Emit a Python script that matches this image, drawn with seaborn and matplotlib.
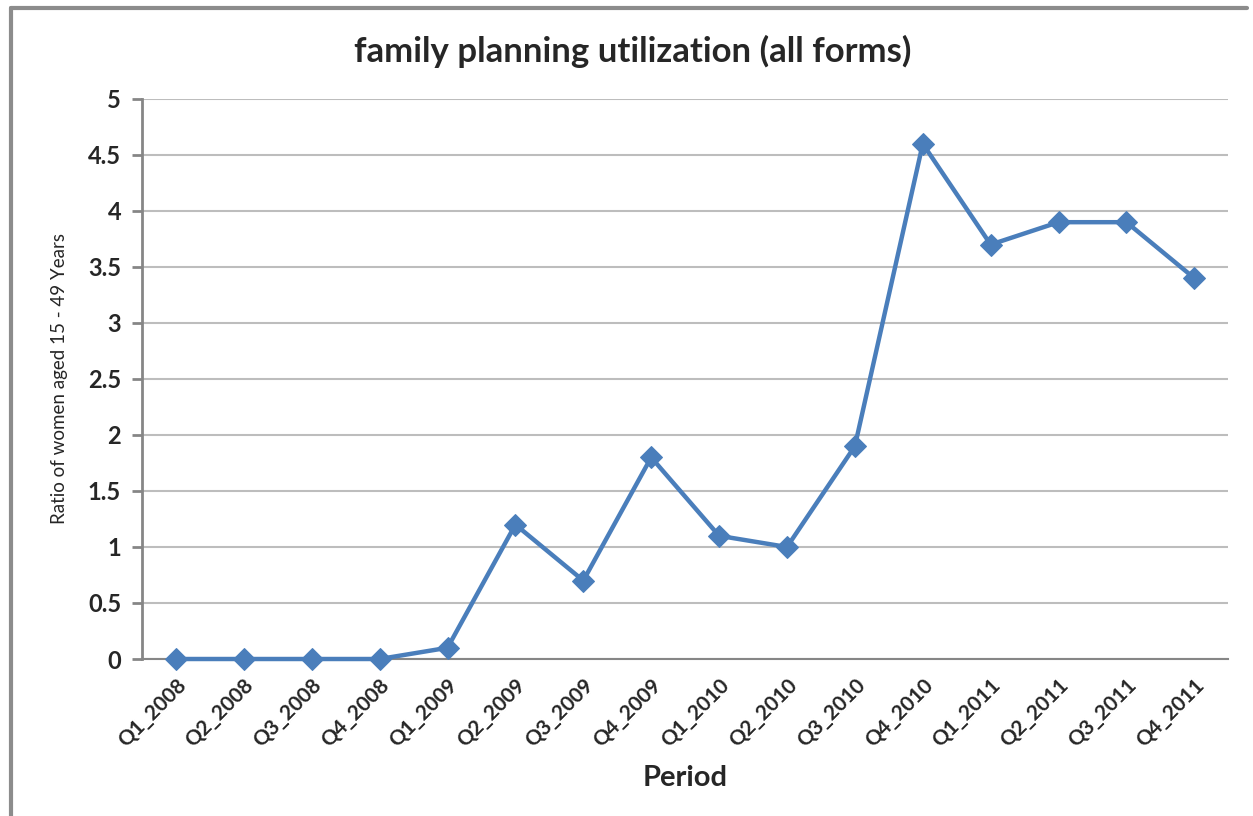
import matplotlib
matplotlib.use("Agg")
import matplotlib.pyplot as plt
import seaborn as sns
import pandas as pd
from matplotlib.lines import Line2D

periods = ["Q1_2008", "Q2_2008", "Q3_2008", "Q4_2008",
           "Q1_2009", "Q2_2009", "Q3_2009", "Q4_2009",
           "Q1_2010", "Q2_2010", "Q3_2010", "Q4_2010",
           "Q1_2011", "Q2_2011", "Q3_2011", "Q4_2011"]
ratio = [0, 0, 0, 0, 0.1, 1.2, 0.7, 1.8, 1.1, 1.0, 1.9, 4.6, 3.7, 3.9, 3.9, 3.4]
y_ticks = [0, 0.5, 1, 1.5, 2, 2.5, 3, 3.5, 4, 4.5, 5]
y_tick_labels = ["0", "0.5", "1", "1.5", "2", "2.5", "3", "3.5", "4", "4.5", "5"]

df = pd.DataFrame({"period": periods, "ratio": ratio})
df["pos"] = range(len(periods))

sns.set_style("white")
plt.rcParams["font.family"] = ["Lato", "DejaVu Sans"]

fig = plt.figure(figsize=(12.53, 8.16), dpi=100)
ax = fig.add_axes([0.1133, 0.1924, 0.867, 0.6863])

sns.lineplot(data=df, x="pos", y="ratio", ax=ax, color="#4A7EBB",
             linewidth=3.2, marker="D", markersize=11,
             markeredgecolor="#4A7EBB", markerfacecolor="#4A7EBB",
             clip_on=False, zorder=5)

ax.set_xlim(-0.5, len(periods) - 0.5)
ax.set_ylim(0, 5)
ax.set_yticks(y_ticks)
ax.set_yticklabels(y_tick_labels, fontsize=17, fontweight="bold")
ax.set_xticks(range(len(periods)))
ax.set_xticklabels(periods, rotation=45, ha="right", rotation_mode="anchor",
                   fontsize=15, fontweight="bold")
ax.yaxis.grid(True, color="#BDBDBD", linewidth=1.5)
ax.set_axisbelow(True)

for side in ["top", "right"]:
    ax.spines[side].set_visible(False)
ax.spines["left"].set_color("#868686")
ax.spines["left"].set_linewidth(2)
ax.spines["bottom"].set_color("#868686")
ax.spines["bottom"].set_linewidth(1.5)
ax.tick_params(axis="y", left=True, length=7, width=2, color="#868686", pad=8)
ax.tick_params(axis="x", bottom=False, pad=8)

ax.set_xlabel("Period", fontsize=21, fontweight="bold", labelpad=10)
ax.set_ylabel("Ratio of women aged 15 - 49 Years", fontsize=13.5, labelpad=14)
fig.text(0.505, 0.937, "family planning utilization (all forms)",
         ha="center", va="center", fontsize=25, fontweight="bold")

# outer chart border
fig.add_artist(Line2D([0.0085, 0.0085], [0.0, 0.99], transform=fig.transFigure,
                      color="#8C8C8C", linewidth=3))
fig.add_artist(Line2D([0.0085, 0.995], [0.99, 0.99], transform=fig.transFigure,
                      color="#8C8C8C", linewidth=3))

fig.savefig("out.png", dpi=100, facecolor="white")
